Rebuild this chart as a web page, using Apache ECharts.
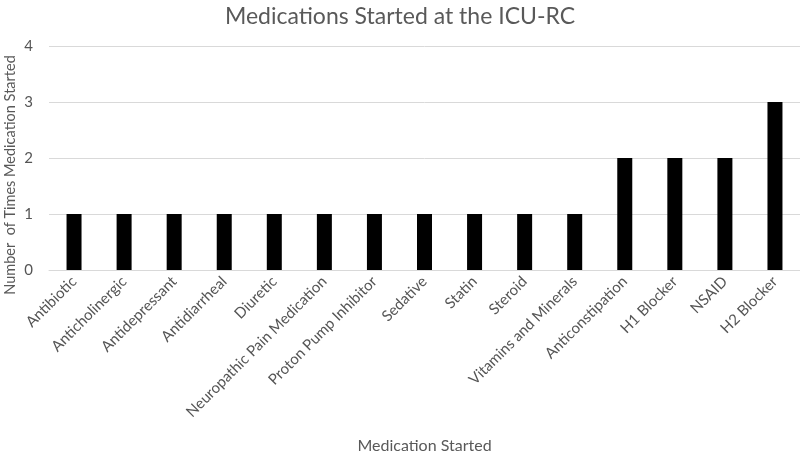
<!DOCTYPE html>
<html><head><meta charset="utf-8">
<script src="https://cdn.jsdelivr.net/npm/echarts@6/dist/echarts.min.js"></script>
<style>html,body{margin:0;padding:0;background:#fff}#c{width:800px;height:454px}</style>
</head><body><div id="c"></div>
<script>
const categories = ["Antibiotic","Anticholinergic","Antidepressant","Antidiarrheal","Diuretic","Neuropathic Pain Medication","Proton Pump Inhibitor","Sedative","Statin","Steroid","Vitamins and Minerals","Anticonstipation","H1 Blocker","NSAID","H2 Blocker"];
const values = [1,1,1,1,1,1,1,1,1,1,1,2,2,2,3];
const yTicks = [0,1,2,3,4];
const FONT = "Lato";
const chart = echarts.init(document.getElementById('c'));
chart.setOption({
  animation:false,
  title:{text:"Medications Started at the ICU-RC",left:'center',top:0,textStyle:{fontFamily:FONT,fontWeight:'normal',fontSize:23,color:'#595959'}},
  grid:{left:49,right:0,top:46,bottom:184,containLabel:false,outerBoundsMode:'none'},
  xAxis:{type:'category',data:categories,
    name:"Medication Started",nameLocation:'middle',nameGap:168,
    nameTextStyle:{fontFamily:FONT,fontSize:16,color:'#595959'},
    axisLine:{lineStyle:{color:'#d9d9d9'}},axisTick:{show:false},
    axisLabel:{rotate:45,interval:0,fontFamily:FONT,fontSize:15,color:'#555555',margin:9}},
  yAxis:{type:'value',min:yTicks[0],max:yTicks[yTicks.length-1],interval:1,
    axisLabel:{fontFamily:FONT,fontSize:15,color:'#555555',margin:16},
    splitLine:{lineStyle:{color:'#d9d9d9'}},axisLine:{show:false},axisTick:{show:false}},
  graphic:[{type:'text',x:10,y:175,rotation:Math.PI/2,
    style:{text:"Number  of Times Medication Started",fontFamily:FONT,fontSize:14.5,fill:'#595959',align:'center',verticalAlign:'middle'}}],
  series:[{type:'bar',data:values,barWidth:15,itemStyle:{color:'#000'}}]
});
</script></body></html>
